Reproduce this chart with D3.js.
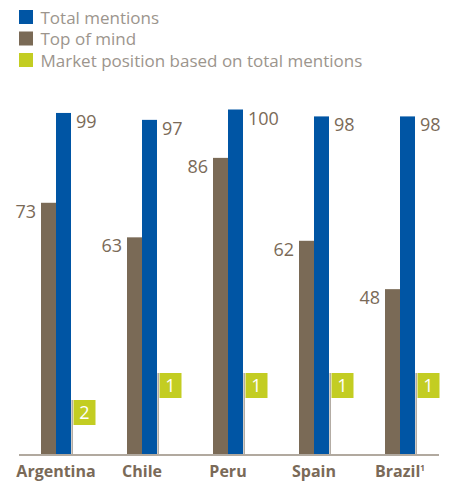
<!DOCTYPE html>
<html>
<head>
<meta charset="utf-8">
<script src="https://cdn.jsdelivr.net/npm/d3@7"></script>
<style>
  html, body { margin: 0; padding: 0; background: #fff; }
  svg { display: block; }
</style>
</head>
<body>
<svg id="chart" width="455" height="482"></svg>
<script>
// Brand awareness by country
const countries = ["Argentina", "Chile", "Peru", "Spain", "Brazil"];
const totalMentions = [99, 97, 100, 98, 98];
const topOfMind = [73, 63, 86, 62, 48];
const marketPosition = [2, 1, 1, 1, 1];
const legendLabels = ["Total mentions", "Top of mind", "Market position based on total mentions"];

const colors = { total: "#0055a4", top: "#7a6a56", rank: "#c3cd22" };
const textColor = "#7a6a58";
const legendText = "#9c958d";
const fontFamily = "'Open Sans', 'Noto Sans', sans-serif";

const svg = d3.select("#chart");
const baseline = 455;

const y = d3.scaleLinear().domain([0, 100]).range([baseline, 109.5]);
const x = d3.scaleBand().domain(countries).range([41, 41 + 86 * countries.length]).paddingInner(0).paddingOuter(0);
const barW = 15;
// ranking markers: 1st place sits higher than 2nd
const rankY = d3.scaleLinear().domain([1, 2]).range([373, 400]);

// Legend
const legendColors = [colors.total, colors.top, colors.rank];
const legend = svg.append("g").selectAll("g").data(legendLabels).join("g")
  .attr("transform", (d, i) => `translate(19, ${10 + i * 21.5})`);
legend.append("rect").attr("width", 14).attr("height", 14).attr("fill", (d, i) => legendColors[i]);
legend.append("text").attr("x", 21.5).attr("y", 13.8)
  .attr("font-family", fontFamily).attr("font-size", 17).attr("font-weight", 400)
  .attr("fill", legendText).text(d => d);

const data = countries.map((c, i) => ({
  country: c, total: totalMentions[i], top: topOfMind[i], rank: marketPosition[i]
}));

const groups = svg.append("g").selectAll("g").data(data).join("g")
  .attr("transform", d => `translate(${x(d.country)},0)`);

// Top of mind bars
groups.append("rect")
  .attr("x", 0).attr("width", barW)
  .attr("y", d => y(d.top)).attr("height", d => baseline - y(d.top))
  .attr("fill", colors.top);

// Total mentions bars
groups.append("rect")
  .attr("x", barW).attr("width", barW)
  .attr("y", d => y(d.total)).attr("height", d => baseline - y(d.total))
  .attr("fill", colors.total);

// Value labels
groups.append("text")
  .attr("x", -5).attr("y", d => y(d.top) + 15)
  .attr("text-anchor", "end")
  .attr("font-family", fontFamily).attr("font-size", 18).attr("font-weight", 400)
  .attr("fill", textColor).text(d => d.top);
groups.append("text")
  .attr("x", 2 * barW + 5).attr("y", d => y(d.total) + 15)
  .attr("font-family", fontFamily).attr("font-size", 18).attr("font-weight", 400)
  .attr("fill", textColor).text(d => d.total);

// Market position markers: stem + flag
groups.append("line")
  .attr("x1", 31.2).attr("x2", 31.2)
  .attr("y1", d => rankY(d.rank)).attr("y2", baseline)
  .attr("stroke", "#b3aca4").attr("stroke-width", 1.6);
groups.append("rect")
  .attr("x", 32.5).attr("width", 22)
  .attr("y", d => rankY(d.rank)).attr("height", 25)
  .attr("fill", colors.rank);
groups.append("text")
  .attr("x", 43.5).attr("y", d => rankY(d.rank) + 19)
  .attr("text-anchor", "middle")
  .attr("font-family", fontFamily).attr("font-size", 18).attr("font-weight", 400)
  .attr("fill", "#fff").text(d => d.rank);

// Baseline axis
svg.append("line")
  .attr("x1", 19).attr("x2", 439).attr("y1", baseline).attr("y2", baseline)
  .attr("stroke", "#b1a99f").attr("stroke-width", 2);

// Category labels
const labels = groups.append("text")
  .attr("x", barW).attr("y", 477)
  .attr("text-anchor", "middle")
  .attr("font-family", fontFamily).attr("font-size", 16).attr("font-weight", 700)
  .attr("fill", textColor);
labels.append("tspan").text(d => d.country);
labels.filter(d => d.country === "Brazil").append("tspan")
  .attr("font-size", 8).attr("dy", -6).text("1");
</script>
</body>
</html>
